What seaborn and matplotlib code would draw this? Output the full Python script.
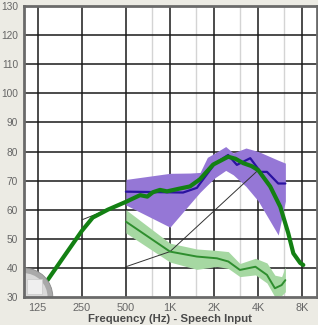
import matplotlib
matplotlib.use("Agg")
import matplotlib.pyplot as plt
import matplotlib.patches as mpatches
import seaborn as sns
import pandas as pd

# ---------------- data ----------------
x_ticks = [125, 250, 500, 1000, 2000, 4000, 8000]
x_tick_labels = ["125", "250", "500", "1K", "2K", "4K", "8K"]
minor_ticks = [750, 1500, 3000, 6000]
y_ticks = [30, 40, 50, 60, 70, 80, 90, 100, 110, 120, 130]

speech_freq = [146, 190, 250, 297, 376, 500, 625, 700, 764, 854, 954, 1150, 1369,
               1604, 1969, 2494, 2800, 3160, 3600, 4000, 4829, 5660, 6410, 6950, 7740, 8126]
speech_db = [35.8, 44.1, 52.7, 57.3, 60.0, 62.7, 65.0, 64.5, 66.0, 66.8, 66.3, 67.2, 68.0,
             70.5, 75.5, 78.2, 77.5, 76.0, 75.0, 73.6, 68.0, 61.0, 52.0, 45.0, 41.7, 41.0]

target_freq = [500, 1228, 1525, 1604, 2030, 2494, 2860, 3530, 4140, 4590, 5480, 6130]
target_db = [66.2, 65.9, 67.5, 69.0, 75.9, 78.8, 75.4, 77.7, 73.0, 73.0, 69.0, 69.0]

upper_band_freq = [500, 1000, 1369, 1604, 1800, 2030, 2400, 2700, 3300, 4000, 4830, 5480, 6130]
upper_band_hi = [70.4, 72.5, 72.6, 72.8, 78.0, 79.5, 81.7, 79.5, 81.2, 80.0, 78.2, 77.0, 76.0]
upper_band_lo = [61.6, 54.0, 62.0, 66.0, 68.5, 71.0, 73.5, 72.0, 68.0, 63.0, 56.0, 51.3, 63.0]

soft_freq = [500, 1000, 1525, 2090, 2500, 3000, 3830, 4590, 5200, 5780, 6130]
soft_db = [55.9, 45.6, 43.9, 43.3, 42.2, 39.3, 40.4, 37.6, 33.0, 34.1, 35.8]
soft_hi = [60.0, 48.5, 46.5, 46.0, 45.6, 41.5, 43.3, 41.7, 37.5, 37.0, 40.4]
soft_lo = [52.0, 42.0, 39.5, 40.5, 39.8, 37.0, 37.6, 34.8, 30.0, 30.5, 31.8]

knee_freq = [500, 1000, 4000]
knee_db = [40.4, 45.6, 73.6]
knee2_freq = [250, 420]
knee2_db = [56.5, 61.0]

# ---------------- style ----------------
sns.set_style("white")
plt.rcParams["font.family"] = ["Liberation Sans", "DejaVu Sans"]

fig = plt.figure(figsize=(3.18, 3.25), dpi=100)
fig.patch.set_facecolor("#ECEBE4")
ax = fig.add_axes([23.5 / 318, 28 / 325, 293 / 318, 291 / 325])
ax.set_facecolor("white")

ax.set_xscale("log")
ax.set_xlim(100, 10000)
ax.set_ylim(30, 130)

# grid
for f in minor_ticks:
    ax.axvline(f, color="#d4d4d4", lw=1.0, zorder=1)
for f in x_ticks:
    ax.axvline(f, color="#1a1a1a", lw=1.1, zorder=1)
for v in y_ticks[1:-1]:
    ax.axhline(v, color="#1a1a1a", lw=1.1, zorder=1)

# bands
ax.fill_between(upper_band_freq, upper_band_lo, upper_band_hi, color="#9577d6",
                lw=0, zorder=2)
ax.fill_between(soft_freq, soft_lo, soft_hi, color="#a6d8a2", lw=0, zorder=2)

# lines
sns.lineplot(x=knee_freq, y=knee_db, ax=ax, color="#333333", lw=0.7, zorder=3)
sns.lineplot(x=knee2_freq, y=knee2_db, ax=ax, color="#333333", lw=0.7, zorder=3)
sns.lineplot(x=soft_freq, y=soft_db, ax=ax, color="#2e8e2e", lw=1.4, zorder=4)
sns.lineplot(x=target_freq, y=target_db, ax=ax, color="#2a12a0", lw=1.6, zorder=5)
sns.lineplot(x=speech_freq, y=speech_db, ax=ax, color="#138013", lw=3.0, zorder=6)

# corner icon
ax.add_patch(mpatches.Wedge((0, 0), 0.1, 0, 90, transform=ax.transAxes,
                            facecolor="#a9a9a9", edgecolor="#8a8a8a", lw=0.6, zorder=7))
ax.add_patch(mpatches.Wedge((0, 0), 0.082, 0, 90, transform=ax.transAxes,
                            facecolor="#d9d9d9", edgecolor="none", zorder=7))
ax.add_patch(mpatches.Rectangle((0.012, 0.012), 0.05, 0.05, transform=ax.transAxes,
                                facecolor="#efefef", edgecolor="#c8c8c8", lw=0.5, zorder=7))

# ticks
ax.set_xticks(x_ticks)
ax.set_xticklabels(x_tick_labels)
ax.set_xticks([], minor=True)
ax.set_yticks(y_ticks)
ax.set_yticklabels([str(v) for v in y_ticks])
ax.tick_params(axis="both", length=0, labelsize=7.8, labelcolor="#666666")
ax.tick_params(axis="y", labelsize=7.3, pad=4)
ax.tick_params(axis="x", pad=4)

ax.set_xlabel("Frequency (Hz) - Speech Input", fontsize=8.2, fontweight="bold",
              color="#4a4a4a", labelpad=1)
ax.set_ylabel("")

for s in ax.spines.values():
    s.set_color("#6a6a6a")
    s.set_linewidth(2.0)
    s.set_zorder(8)

fig.savefig("out.png", dpi=100, facecolor=fig.get_facecolor())
